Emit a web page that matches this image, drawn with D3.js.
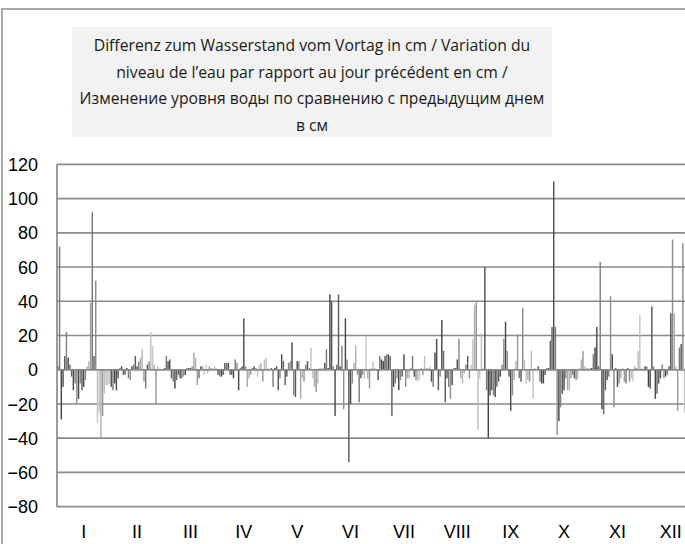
<!DOCTYPE html>
<html><head><meta charset="utf-8">
<script src="https://cdn.jsdelivr.net/npm/d3@7/dist/d3.min.js"></script>
<style>body{margin:0;background:#fff}svg{display:block}</style>
</head><body>
<svg id="chart" width="685" height="544"></svg>
<script>
// ---- data (cm difference to previous day), one array per month, one value per day ----
const months = ["I","II","III","IV","V","VI","VII","VIII","IX","X","XI","XII"];
const jan = [2,72,-29,-10,8,22,7,3,-4,-12,-8,-20,-17,-8,-12,-10,-6,2,5,39,92,8,52,-31,-25,-40,-27,-14,-9,-9,-8];
const feb = [-10,-12,-8,-12,-5,1,2,-3,-3,1,-5,-6,2,3,8,2,5,7,12,-7,-11,3,5,22,14,3,-20,2];
const mar = [1,8,5,6,-5,-7,-11,-6,-3,-5,-5,-4,-3,1,1,1,2,10,7,-9,-5,2,2,-3,3,-2,2,1,1,2,1];
const apr = [-3,-4,-4,-3,4,4,4,-3,-3,-5,6,4,-12,1,2,30,2,-10,-5,-3,1,2,1,-4,3,4,-7,6,7,1];
const may = [1,-10,1,2,-12,-5,9,5,-9,-4,4,5,16,-15,-16,5,5,-17,-5,-7,3,5,1,13,-5,-10,-13,-8,1,1,1];
const jun = [4,12,1,44,40,2,-27,3,44,2,14,-23,30,6,-54,-20,-8,4,14,-3,-19,-5,-3,-5,20,-5,-11,1,5,1];
const jul = [-6,8,6,5,8,9,9,8,-27,-10,-8,-5,-12,-6,-4,9,-10,-5,-5,1,8,-4,-6,-7,-6,1,-3,8,1,1,2];
const aug = [-7,-10,10,18,-12,-4,29,11,-19,-5,-10,-17,-9,1,1,6,18,-5,-8,-2,3,8,-5,3,18,38,40,-35,-5,21,1];
const sep = [60,-12,-40,-15,-12,-15,-16,-10,-7,-4,3,18,28,11,-4,-24,-15,-6,5,21,-5,-7,36,6,-8,-6,-7,11,-17,1];
const oct = [2,-7,-8,-8,-3,1,1,17,25,110,25,-38,-30,-22,-14,-12,-5,-12,-12,-5,-3,-5,-6,-5,1,6,11,2,1,1,1];
const nov = [1,9,13,25,2,63,-23,-26,-12,-6,-4,43,9,-22,1,-10,-8,-5,1,-7,-8,1,-7,-5,-7,2,1,11,32,1];
const dec = [2,2,-10,-11,37,2,-17,-14,-8,-5,3,-5,-4,-3,2,33,76,33,2,-24,13,15,74,-25,3,-5,2,4,-3,2,1];
const monthValues = [jan,feb,mar,apr,may,jun,jul,aug,sep,oct,nov,dec];
// one grey per day-of-month series (1..31)
const dayShades = ["#505050","#7a7a7a","#444444","#4a4a4a","#555555","#808080","#474747","#666666","#5e5e5e","#4c4c4c",
                   "#7d7d7d","#8f8f8f","#464646","#858585","#595959","#4a4a4a","#8a8a8a","#a8a8a8","#b4b4b4","#9a9a9a",
                   "#777777","#575757","#8c8c8c","#c2c2c2","#c6c6c6","#b0b0b0","#959595","#bdbdbd","#c4c4c4","#bebebe","#c8c8c8"];
const yTicks = [-80,-60,-40,-20,0,20,40,60,80,100,120];
const titleLines = ["Differenz zum Wasserstand vom Vortag in cm / Variation du",
                    "niveau de l\u2019eau par rapport au jour précédent en cm /",
                    "Изменение уровня воды по сравнению с предыдущим днем",
                    "в см"];

// ---- drawing ----
const svg = d3.select("#chart");
const W = 685, H = 544;
const plot = {left: 57, right: 697.5, top: 164.3, bottom: 506.7};
const grid = "#8a8a8a";

// outer frame
svg.append("rect").attr("x", 2).attr("y", 9).attr("width", W + 10).attr("height", H + 10)
  .attr("fill", "#fff").attr("stroke", "#8c8c8c").attr("stroke-width", 1.5);

// title box
const tb = svg.append("g");
tb.append("rect").attr("x", 72).attr("y", 27).attr("width", 480).attr("height", 110).attr("fill", "#f2f2f2");
const tFont = "'Open Sans','Noto Sans',sans-serif";
const tTexts = tb.selectAll("text").data(titleLines).join("text")
  .attr("x", 312).attr("y", (d, i) => 51 + i * 26.7)
  .attr("text-anchor", "middle").attr("font-family", tFont).attr("font-size", 16)
  .attr("fill", "#1a1a1a").text(d => d);
// fit first line to the measured width
const w0 = tTexts.node().getComputedTextLength();
const fs = 16 * 437 / w0;
tTexts.attr("font-size", fs);

// scales
const x = d3.scaleBand().domain(months).range([plot.left, plot.right]).padding(0);
const xd = d3.scaleBand().domain(d3.range(1, 32)).range([0, x.bandwidth()]).padding(0);
const y = d3.scaleLinear().domain([-80, 120]).range([plot.bottom, plot.top]);

// gridlines
svg.append("g").selectAll("line").data(yTicks).join("line")
  .attr("x1", plot.left).attr("x2", W + 5)
  .attr("y1", d => y(d)).attr("y2", d => y(d))
  .attr("stroke", grid).attr("stroke-width", 1.7);

// bars
const bars = [];
monthValues.forEach((arr, m) => arr.forEach((v, i) => bars.push({m: months[m], day: i + 1, v})));
svg.append("g").selectAll("rect").data(bars).join("rect")
  .attr("x", d => x(d.m) + xd(d.day) + 0.15)
  .attr("width", xd.bandwidth() - 0.3)
  .attr("y", d => y(Math.max(0, d.v)))
  .attr("height", d => Math.abs(y(d.v) - y(0)))
  .attr("fill", d => dayShades[d.day - 1]);

// zero line on top of bars? (Excel draws axis line over bars)
svg.append("line").attr("x1", plot.left).attr("x2", W + 5).attr("y1", y(0)).attr("y2", y(0))
  .attr("stroke", grid).attr("stroke-width", 1.5);

// y axis line
svg.append("line").attr("x1", plot.left).attr("x2", plot.left).attr("y1", plot.top).attr("y2", plot.bottom)
  .attr("stroke", grid).attr("stroke-width", 1.7);

// y tick labels
const yAxis = d3.axisLeft(y).tickValues(yTicks).tickSize(0).tickPadding(0);
const ya = svg.append("g").attr("transform", "translate(38,0)").call(yAxis);
ya.select(".domain").remove();
ya.selectAll("text").attr("font-family", "'Liberation Sans',Arial,sans-serif").attr("font-size", 18)
  .attr("fill", "#000").attr("dy", "0.34em");

// month labels
const xAxis = d3.axisBottom(x).tickSize(0).tickPadding(0);
const xa = svg.append("g").attr("transform", "translate(0,525)").call(xAxis);
xa.select(".domain").remove();
xa.selectAll("text").attr("font-family", "'Liberation Sans',Arial,sans-serif").attr("font-size", 18)
  .attr("fill", "#000").attr("dy", "0.71em");
</script>
</body></html>
